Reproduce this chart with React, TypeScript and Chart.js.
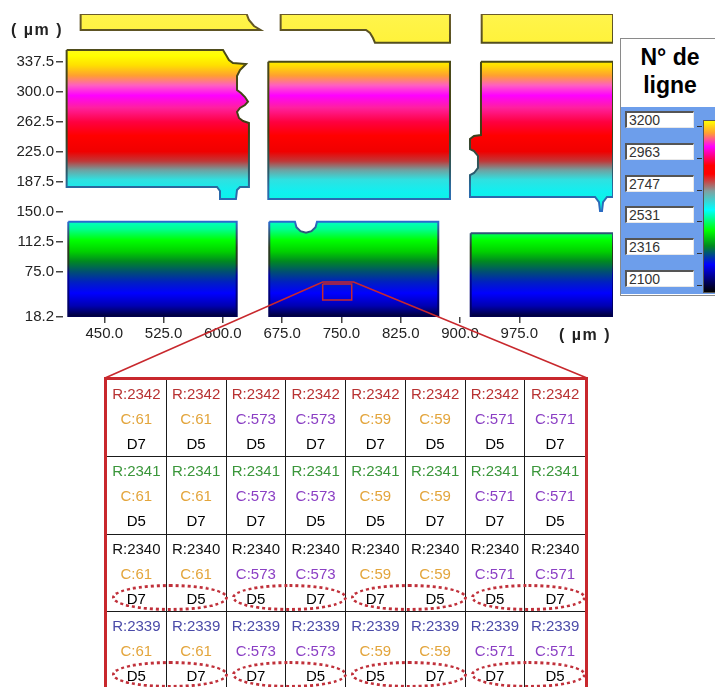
import React, { useEffect, useRef } from "react";
import { Chart, registerables } from "chart.js";

Chart.register(...registerables);

// ---------- axes (µm) ----------
const X_TICKS = [450, 525, 600, 675, 750, 825, 900, 975];
const Y_TICKS = [18.2, 75, 112.5, 150, 187.5, 225, 262.5, 300, 337.5];
const X_MIN = 397.8;
const X_MAX = 1093.5;
const Y_MIN = 18.2;
const Y_MAX = 397;

// ---------- block outlines (x µm, y µm) ----------
const BLOCK_TOP_LEFT = [[420.1, 397], [630.1, 397], [633.0, 389.5], [639.4, 382], [647.8, 377], [420.1, 377]];
const BLOCK_TOP_MID = [[673.1, 397], [887.3, 397], [887.3, 361.1], [792.4, 361.1], [789.9, 367], [786.1, 373.2], [781.1, 377], [673.1, 377]];
const BLOCK_TOP_RIGHT = [[927.4, 397], [1093.5, 397], [1093.5, 361.1], [927.4, 361.1]];
const BLOCK_MID_LEFT = [[402.4, 352], [600.2, 352], [604.0, 345.7], [607.7, 339.5], [612.8, 335.7], [629.3, 334.5], [621.7, 327], [617.9, 319.5], [617.9, 302], [622.9, 298.2], [628.0, 293.2], [631.8, 287.3], [628.0, 283.2], [621.7, 279.5], [617.9, 274.5], [620.4, 267], [625.5, 263.2], [633.0, 260.7], [633.0, 180.7], [621.7, 180.7], [617.9, 177], [616.6, 165.7], [597.6, 165.7], [596.4, 175.7], [592.6, 180.7], [402.4, 180.7]];
const BLOCK_MID_MID = [[657.5, 337.3], [887.3, 337.3], [887.3, 165.7], [657.5, 165.7]];
const BLOCK_MID_RIGHT = [[926.5, 337.3], [1093.5, 337.3], [1093.5, 168.2], [1085.9, 168.2], [1080.9, 161.7], [1079.6, 150.7], [1077.1, 150.7], [1075.8, 161.7], [1070.8, 168.2], [912.6, 168.2], [912.6, 195.7], [917.7, 198.2], [922.7, 204.5], [922.7, 219.5], [917.7, 225.7], [912.6, 228.2], [912.6, 240.7], [917.7, 244.5], [926.5, 245.7]];
const BLOCK_LOW_LEFT = [[404.5, 137.3], [617.5, 137.3], [617.5, 18.2], [404.5, 18.2]];
const BLOCK_LOW_MID = [[658.7, 137.3], [691.2, 137.3], [693.1, 130.5], [698.2, 125.5], [705.2, 123.6], [712.1, 125.5], [717.2, 130.5], [719.1, 137.3], [872.5, 137.3], [872.5, 18.2], [658.7, 18.2]];
const BLOCK_LOW_RIGHT = [[913.5, 122.8], [1093.5, 122.8], [1093.5, 18.2], [913.5, 18.2]];
const BLOCKS = [BLOCK_TOP_LEFT, BLOCK_TOP_MID, BLOCK_TOP_RIGHT, BLOCK_MID_LEFT, BLOCK_MID_MID, BLOCK_MID_RIGHT, BLOCK_LOW_LEFT, BLOCK_LOW_MID, BLOCK_LOW_RIGHT];

// zoomed region (µm)
const ZOOM_BOX = [[726.3, 59.5], [763.0, 59.5], [763.0, 39.5], [726.3, 39.5]];

// ---------- legend & table ----------
const LEGEND_LABELS = ["3200", "2963", "2747", "2531", "2316", "2100"];
const TABLE_ROWS = [2342, 2341, 2340, 2339];
const TABLE_COLS = [61, 61, 573, 573, 59, 59, 571, 571];
const TABLE_D = [
  ["D7", "D5", "D5", "D7", "D7", "D5", "D5", "D7"],
  ["D5", "D7", "D7", "D5", "D5", "D7", "D7", "D5"],
  ["D7", "D5", "D5", "D7", "D7", "D5", "D5", "D7"],
  ["D5", "D7", "D7", "D5", "D5", "D7", "D7", "D5"],
];
const CIRCLED_ROWS = [2, 3];

// ---------- styles ----------
const FILL_STOPS: [number, string][] = [
  [397, "#fff44c"], [360, "#fff23a"], [345, "#ffff00"], [333, "#ffe000"], [320, "#ffa030"],
  [308, "#ff60c0"], [295, "#ff00ff"], [280, "#ff20a0"], [262, "#ff0040"], [245, "#ff0000"],
  [225, "#f00000"], [213, "#c03838"], [202, "#70a0a0"], [190, "#30e0e0"], [175, "#10f0f0"],
  [140, "#00ffd0"], [128, "#00ff90"], [114, "#00ff00"], [100, "#00d000"], [88, "#008a20"],
  [75, "#005070"], [62, "#0020c0"], [48, "#0000ff"], [32, "#0000b0"], [18.2, "#000030"],
];
const EDGE_STOPS: [number, string][] = [
  [397, "#6b5b2b"], [345, "#4a4a18"], [250, "#3e3e14"], [200, "#2a5a6a"], [180, "#2a6aa0"],
  [160, "#2a6ab8"], [137, "#2a6ad0"], [125, "#305880"], [105, "#2a3a20"], [85, "#203820"],
  [70, "#0000a0"], [18.2, "#000050"],
];
const RED = "#c8282d";
const R_COLORS = ["#b83232", "#3a963a", "#111111", "#4a4aa8"];
const C_COLORS: Record<number, string> = { 61: "#e3a53c", 59: "#e3a53c", 573: "#8b3fc4", 571: "#8b3fc4" };
const FONT = '"Liberation Sans", Arial, sans-serif';

const TABLE_LEFT = 104;
const TABLE_TOP = 377;
const TABLE_W = 484;
const ROW_H = [77, 78, 77, 77];

function verticalGradient(chart: any, stops: [number, string][]) {
  const { ctx, chartArea, scales } = chart;
  if (!chartArea || !scales.y) return undefined;
  const top = scales.y.getPixelForValue(Y_MAX);
  const bottom = scales.y.getPixelForValue(Y_MIN);
  const g = ctx.createLinearGradient(0, top, 0, bottom);
  for (const [v, c] of stops) {
    g.addColorStop(Math.min(1, Math.max(0, (Y_MAX - v) / (Y_MAX - Y_MIN))), c);
  }
  return g;
}

const toPoints = (poly: number[][]) => [...poly, poly[0]].map(([x, y]) => ({ x, y }));

const zoomLinesPlugin = {
  id: "zoomLines",
  afterDraw(chart: any) {
    const { ctx, scales } = chart;
    const xl = scales.x.getPixelForValue(ZOOM_BOX[0][0]);
    const xr = scales.x.getPixelForValue(ZOOM_BOX[1][0]);
    const yt = scales.y.getPixelForValue(ZOOM_BOX[0][1]);
    ctx.save();
    ctx.strokeStyle = RED;
    ctx.lineWidth = 1.6;
    ctx.beginPath();
    ctx.moveTo(TABLE_LEFT + 1, TABLE_TOP + 1);
    ctx.lineTo(xl, yt - 2);
    ctx.lineTo(xr + 2, yt - 2);
    ctx.lineTo(TABLE_LEFT + TABLE_W - 1, TABLE_TOP + 1);
    ctx.stroke();
    ctx.restore();
  },
};

export default function App() {
  const canvasRef = useRef<HTMLCanvasElement>(null);

  useEffect(() => {
    const canvas = canvasRef.current!;
    const tickFont = { family: FONT, size: 15 };
    const chart = new Chart(canvas, {
      type: "scatter",
      data: {
        datasets: [
          ...BLOCKS.map((poly) => ({
            data: toPoints(poly),
            showLine: true,
            fill: "shape",
            backgroundColor: (c: any) => verticalGradient(c.chart, FILL_STOPS),
            borderColor: (c: any) => verticalGradient(c.chart, EDGE_STOPS),
            borderWidth: 2,
            pointRadius: 0,
            pointHoverRadius: 0,
            tension: 0,
            order: 1,
          })),
          {
            data: toPoints(ZOOM_BOX),
            showLine: true,
            fill: false,
            borderColor: RED,
            borderWidth: 1.5,
            pointRadius: 0,
            pointHoverRadius: 0,
            order: -1,
          },
        ],
      } as any,
      options: {
        animation: false,
        responsive: false,
        events: [],
        layout: { padding: { top: 14, right: 102, bottom: 340, left: 0 } },
        plugins: { legend: { display: false }, tooltip: { enabled: false } },
        scales: {
          x: {
            type: "linear",
            min: X_MIN,
            max: X_MAX,
            border: { display: false },
            grid: { drawOnChartArea: false, drawTicks: true, tickLength: 6, tickColor: "#444", lineWidth: 1.5 },
            ticks: {
              color: "#222",
              font: tickFont,
              padding: 2,
              maxRotation: 0,
              autoSkip: false,
              callback: (v: any) => Number(v).toFixed(1),
            },
            afterBuildTicks: (s: any) => {
              s.ticks = X_TICKS.map((v) => ({ value: v }));
            },
            afterFit: (s: any) => {
              s.height = 30;
            },
          },
          y: {
            type: "linear",
            min: Y_MIN,
            max: Y_MAX,
            border: { display: false },
            grid: { drawOnChartArea: false, drawTicks: true, tickLength: 7, tickColor: "#444", lineWidth: 1.5 },
            ticks: {
              color: "#222",
              font: tickFont,
              padding: 2,
              autoSkip: false,
              callback: (v: any) => Number(v).toFixed(1),
            },
            afterBuildTicks: (s: any) => {
              s.ticks = Y_TICKS.map((v) => ({ value: v }));
            },
            afterFit: (s: any) => {
              s.width = 63;
            },
          },
        },
      } as any,
      plugins: [zoomLinesPlugin],
    });
    return () => chart.destroy();
  }, []);

  const colW = (TABLE_W - 6) / TABLE_COLS.length;
  const rowTops = ROW_H.map((_, i) => ROW_H.slice(0, i).reduce((a, b) => a + b, 0));

  return (
    <div
      style={{
        position: "fixed",
        left: 0,
        top: 0,
        width: 715,
        height: 687,
        overflow: "hidden",
        background: "#fff",
        fontFamily: FONT,
      }}
    >
      <canvas
        ref={canvasRef}
        width={715}
        height={687}
        style={{ position: "absolute", left: 0, top: 0, width: 715, height: 687 }}
      />

      {/* axis unit labels */}
      <div style={{ position: "absolute", left: 11, top: 20, fontSize: 16, fontWeight: "bold", color: "#222", letterSpacing: 1.5, lineHeight: "20px", whiteSpace: "pre" }}>
        ( µm )
      </div>
      <div style={{ position: "absolute", left: 559, top: 325, fontSize: 16, fontWeight: "bold", color: "#222", letterSpacing: 1.5, lineHeight: "20px", whiteSpace: "pre" }}>
        ( µm )
      </div>

      {/* legend panel */}
      <div style={{ position: "absolute", left: 620, top: 38, width: 120, height: 258, border: "1px solid #8a8a8a", background: "#fff", boxSizing: "border-box" }} />
      <div style={{ position: "absolute", left: 622, top: 43, width: 96, textAlign: "center", fontSize: 23, fontWeight: "bold", lineHeight: "28px", color: "#000" }}>
        N° de
        <br />
        ligne
      </div>
      <div style={{ position: "absolute", left: 621, top: 107, width: 110, height: 187, background: "#6d9eeb" }} />
      {LEGEND_LABELS.map((lab, i) => {
        const top = 111 + i * 31.8;
        return (
          <React.Fragment key={lab}>
            <div
              style={{
                position: "absolute",
                left: 625,
                top,
                width: 69,
                height: 17,
                boxSizing: "border-box",
                background: "#fff",
                borderTop: "2px solid #555",
                borderLeft: "2px solid #555",
                borderBottom: "1px solid #e8e8e8",
                borderRight: "1px solid #e8e8e8",
                fontFamily: '"Liberation Sans Narrow", "Arial Narrow", ' + FONT,
                fontSize: 14,
                lineHeight: "14px",
                color: "#333",
                paddingLeft: 2,
              }}
            >
              {lab}
            </div>
            <div style={{ position: "absolute", left: 697, top: top + 15, width: 5, height: 1, background: "#333" }} />
          </React.Fragment>
        );
      })}
      <div
        style={{
          position: "absolute",
          left: 703,
          top: 120,
          width: 24,
          height: 173,
          boxSizing: "border-box",
          border: "1px solid #555",
          background:
            "linear-gradient(to bottom, #ffff00 0%, #ffa030 7%, #ff00ff 15%, #ff0000 26%, #ff0000 31%, #80a0a0 41%, #00ffff 52%, #00ff00 64%, #008a20 73%, #0000ff 84%, #000060 94%, #000000 100%)",
        }}
      />

      {/* zoomed table */}
      <div
        style={{
          position: "absolute",
          left: TABLE_LEFT,
          top: TABLE_TOP,
          width: TABLE_W,
          height: 330,
          boxSizing: "border-box",
          borderLeft: `3px solid ${RED}`,
          borderRight: `3px solid ${RED}`,
          borderTop: `3px solid ${RED}`,
        }}
      >
        {TABLE_ROWS.map((r, ri) =>
          TABLE_COLS.map((c, ci) => (
            <div
              key={`${ri}-${ci}`}
              style={{
                position: "absolute",
                left: ci * colW,
                top: rowTops[ri],
                width: colW,
                height: ROW_H[ri],
                boxSizing: "border-box",
                borderRight: ci < TABLE_COLS.length - 1 ? "1.5px solid #1a1a1a" : "none",
                borderBottom: "1.5px solid #1a1a1a",
                textAlign: "center",
                fontSize: 15,
                lineHeight: "25px",
                paddingTop: 1,
              }}
            >
              <div style={{ color: R_COLORS[ri] }}>R:{r}</div>
              <div style={{ color: C_COLORS[c] }}>C:{c}</div>
              <div style={{ color: "#000" }}>{TABLE_D[ri][ci]}</div>
            </div>
          ))
        )}
        {CIRCLED_ROWS.map((ri) =>
          [0, 2, 4, 6].map((ci) => (
            <div
              key={`e-${ri}-${ci}`}
              style={{
                position: "absolute",
                left: ci * colW + 5,
                top: rowTops[ri] + 49,
                width: colW * 2 - 4,
                height: 27,
                boxSizing: "border-box",
                border: "3px dotted #c0303a",
                borderRadius: "50%",
              }}
            />
          ))
        )}
      </div>
    </div>
  );
}
